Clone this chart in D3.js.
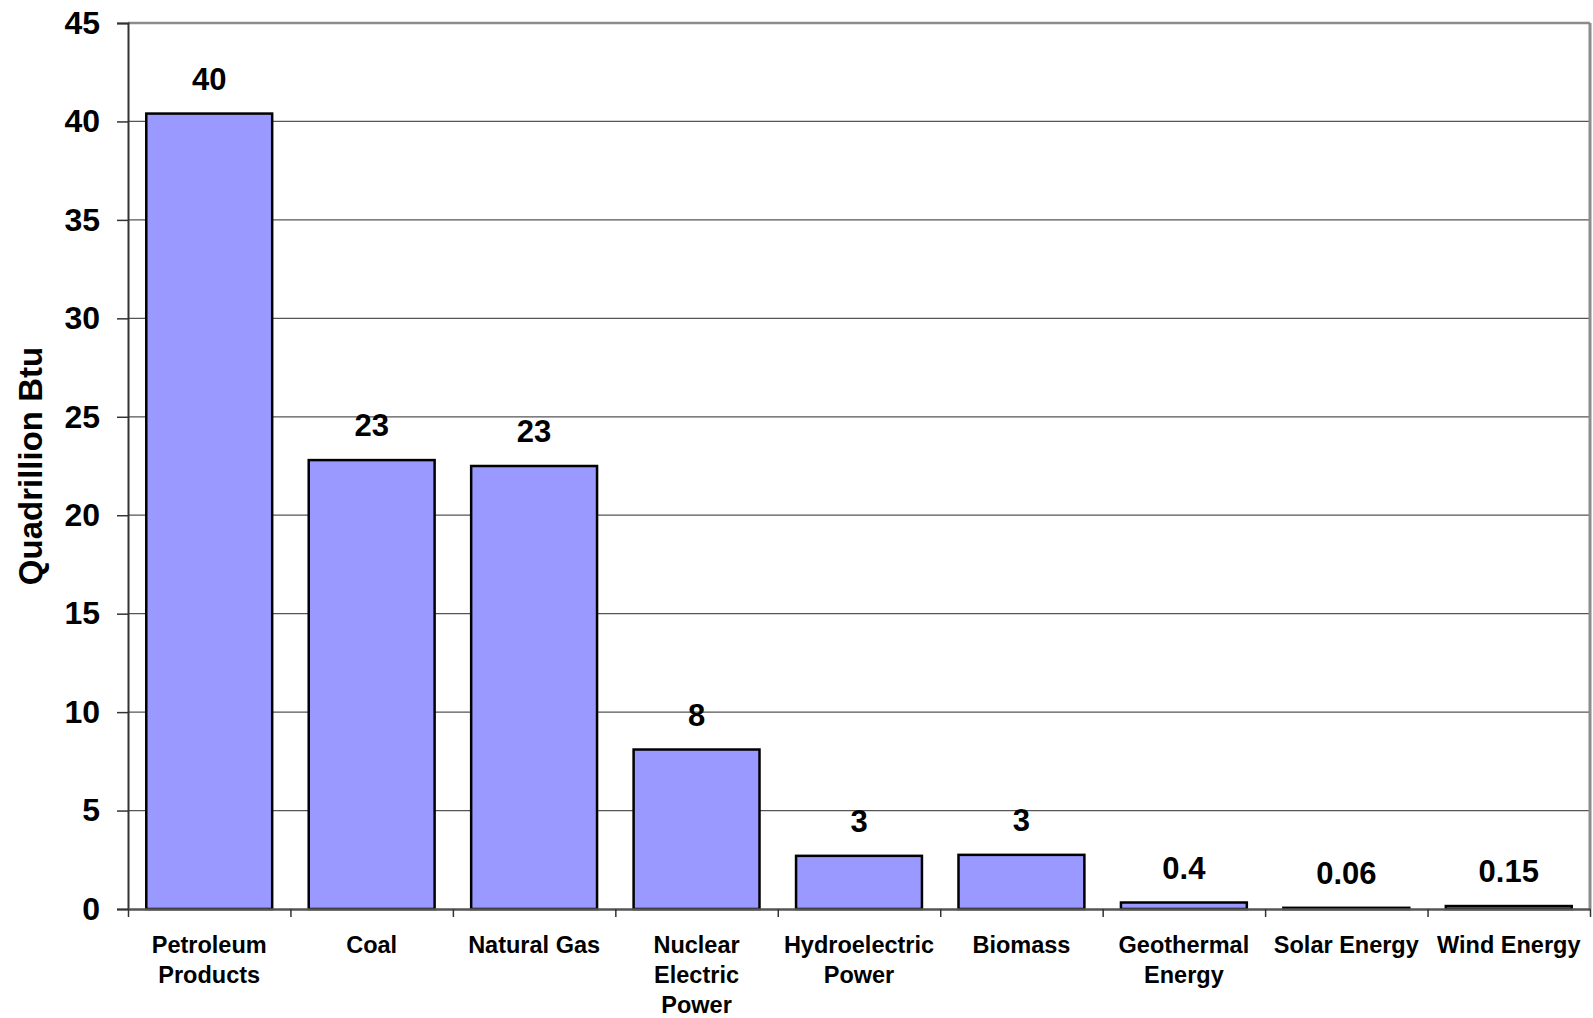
<!DOCTYPE html>
<html lang="en">
<meta charset="utf-8">
<head>
<script src="https://d3js.org/d3.v7.min.js"></script>
<style>
  body { margin: 0; background: #fff; }
  text { font-family: "Liberation Sans", Arial, sans-serif; font-weight: bold; fill: #000; }
</style>
</head>
<body>
<div id="my_dataviz"></div>
<script>

// categories (line-broken as in the original) and values
var categories = ["Petroleum Products", "Coal", "Natural Gas", "Nuclear Electric Power",
                  "Hydroelectric Power", "Biomass", "Geothermal Energy", "Solar Energy", "Wind Energy"]
var catLines = [["Petroleum", "Products"], ["Coal"], ["Natural Gas"], ["Nuclear", "Electric", "Power"],
                ["Hydroelectric", "Power"], ["Biomass"], ["Geothermal", "Energy"], ["Solar Energy"], ["Wind Energy"]]
var values = [40.4, 22.8, 22.5, 8.1, 2.7, 2.75, 0.33, 0.06, 0.15]
var valueLabels = ["40", "23", "23", "8", "3", "3", "0.4", "0.06", "0.15"]
var yTicks = [0, 5, 10, 15, 20, 25, 30, 35, 40, 45]

var width = 1593, height = 1018
// plot area edges (note: "top" is reserved on window)
var pLeft = 128, pRight = 1590, pTop = 23, pBottom = 909

var svg = d3.select("#my_dataviz")
  .append("svg")
  .attr("width", width)
  .attr("height", height)

var yScale = d3.scaleLinear().domain([0, 45]).range([pBottom, pTop])

var xScale = d3.scaleBand()
  .domain(categories)
  .range([pLeft, pRight])
  .paddingInner(0.225)
  .paddingOuter(0.1125)

// boundaries between categories, for the bottom tick marks
var xEdges = d3.scaleLinear().domain([0, categories.length]).range([pLeft, pRight])

// GRIDLINES
svg.append("g")
  .selectAll("line")
  .data(yTicks.filter(d => d > 0))
  .enter()
  .append("line")
    .attr("x1", pLeft)
    .attr("x2", pRight)
    .attr("y1", d => yScale(d))
    .attr("y2", d => yScale(d))
    .style("stroke", d => d == 45 ? "#8c8c8c" : "#555")
    .style("stroke-width", d => d == 45 ? 2.5 : 1.3)

// right border of plot area
svg.append("line")
  .attr("x1", pRight).attr("x2", pRight)
  .attr("y1", pTop).attr("y2", pBottom)
  .style("stroke", "#8c8c8c")
  .style("stroke-width", 3)

// BARS
svg.selectAll("rect.bar")
  .data(values)
  .enter()
  .append("rect")
    .attr("class", "bar")
    .attr("x", (d, i) => xScale(categories[i]))
    .attr("width", xScale.bandwidth())
    .attr("y", d => yScale(d))
    .attr("height", d => yScale(0) - yScale(d))
    .style("fill", "#9999ff")
    .style("stroke", "#000")
    .style("stroke-width", 2.5)

// VALUE LABELS
svg.selectAll("text.val")
  .data(values)
  .enter()
  .append("text")
    .attr("class", "val")
    .attr("x", (d, i) => xScale(categories[i]) + xScale.bandwidth() / 2)
    .attr("y", d => yScale(d) - 24)
    .attr("text-anchor", "middle")
    .style("font-size", "31px")
    .text((d, i) => valueLabels[i])

// Y AXIS
var yAxis = svg.append("g")
  .attr("transform", "translate(" + pLeft + ",0)")
  .call(d3.axisLeft(yScale).tickValues(yTicks).tickSize(11).tickPadding(17))
yAxis.select(".domain").style("stroke", "#333").style("stroke-width", 2)
yAxis.selectAll(".tick line").style("stroke", "#333").style("stroke-width", 1.5)
yAxis.selectAll(".tick text")
  .style("font-size", "32px")
  .style("font-family", "Liberation Sans, Arial, sans-serif")
  .style("font-weight", "bold")
  .attr("fill", "#000")

// X AXIS (ticks between categories)
var xAxis = svg.append("g")
  .attr("transform", "translate(0," + pBottom + ")")
  .call(d3.axisBottom(xEdges).ticks(categories.length).tickSizeInner(8).tickSizeOuter(0).tickFormat(""))
xAxis.select(".domain").style("stroke", "#555").style("stroke-width", 2.5)
xAxis.selectAll(".tick line").style("stroke", "#333").style("stroke-width", 1.5)

// category labels
var catG = svg.append("g")
catLines.forEach(function(lines, i) {
  var cx = xScale(categories[i]) + xScale.bandwidth() / 2
  var t = catG.append("text")
    .attr("x", cx)
    .attr("y", pBottom + 44)
    .attr("text-anchor", "middle")
    .style("font-size", "23.5px")
  lines.forEach(function(l, j) {
    t.append("tspan")
      .attr("x", cx)
      .attr("dy", j == 0 ? 0 : 30)
      .text(l)
  })
})

// Y TITLE
svg.append("text")
  .attr("transform", "translate(42," + ((pTop + pBottom) / 2) + ") rotate(-90)")
  .attr("text-anchor", "middle")
  .style("font-size", "33px")
  .text("Quadrillion Btu")

</script>
</body>
</html>
